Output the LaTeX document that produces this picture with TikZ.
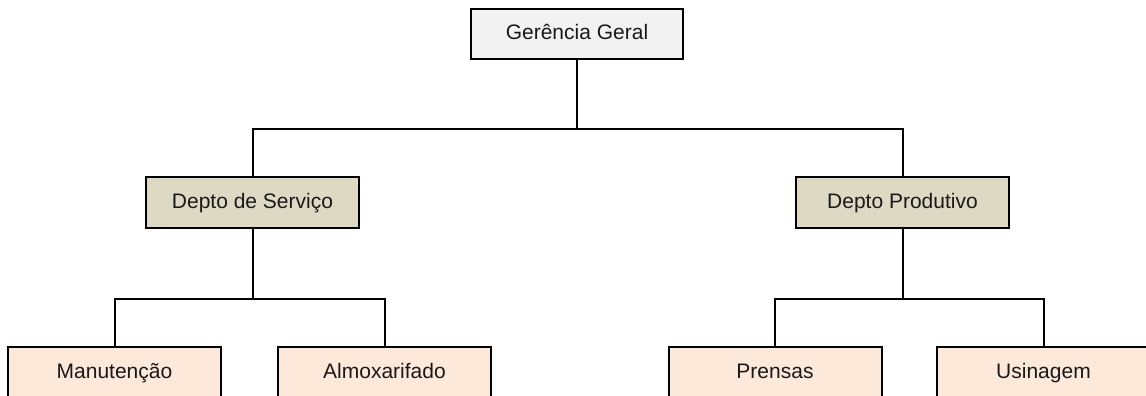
\documentclass[tikz,border=0pt]{standalone}
\usepackage{fontspec}
\setmainfont{Liberation Sans}
\definecolor{topfill}{HTML}{F2F2F2}
\definecolor{midfill}{HTML}{DDD9C3}
\definecolor{leaffill}{HTML}{FDE9D9}
\begin{document}
\begin{tikzpicture}[x=1pt,y=-1pt,
  box/.style={draw=black, line width=2pt, rectangle, inner sep=0pt,
    minimum width=213pt, minimum height=51pt,
    text height=15pt, text depth=4pt,
    font=\fontsize{21}{25}\selectfont, text=black!90},
  topbox/.style={box, fill=topfill, minimum width=212pt, minimum height=50pt},
  midbox/.style={box, fill=midfill},
  leafbox/.style={box, fill=leaffill, minimum height=52pt},
  link/.style={draw=black, line width=2pt}]
\useasboundingbox (0,0) rectangle (1146,396);
\clip (0,0) rectangle (1146,396);
\fill[white] (0,0) rectangle (1146,396);

% bus levels
\coordinate (bus1) at (0,129);
\coordinate (bus2) at (0,299);

% nodes
\node[topbox] (g) at (577,34) {Gerência Geral};
\node[midbox] (s) at (252.5,202.5) {Depto de Serviço};
\node[midbox] (p) at (902.5,202.5) {Depto Produtivo};
\node[leafbox] (m) at (114.5,373) {Manutenção};
\node[leafbox] (a) at (384.5,373) {Almoxarifado};
\node[leafbox] (r) at (775,373) {Prensas};
\node[leafbox] (u) at (1043.5,373) {Usinagem};

% connectors
\draw[link] (g.south) -- (bus1 -| g.south);
\draw[link] (s.north) |- (bus1 -| g.south) -| (p.north);
\draw[link] (s.south) -- (bus2 -| s.south);
\draw[link] (m.north) |- (bus2 -| s.south) -| (a.north);
\draw[link] (p.south) -- (bus2 -| p.south);
\draw[link] (r.north) |- (bus2 -| p.south) -| (u.north);
\end{tikzpicture}
\end{document}
